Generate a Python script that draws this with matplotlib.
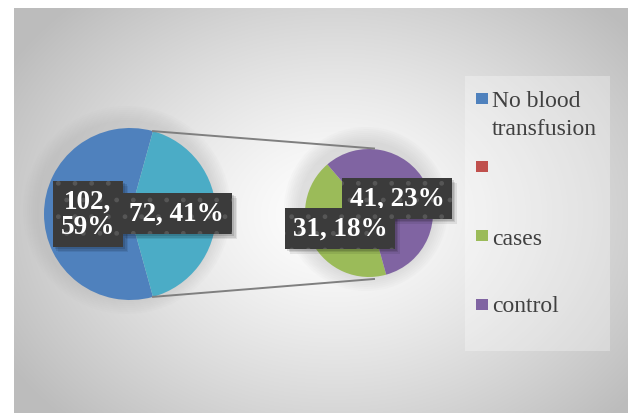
import numpy as np
import matplotlib
matplotlib.use("Agg")
import matplotlib.pyplot as plt
from matplotlib.patches import Rectangle

plt.rcParams['hatch.linewidth'] = 1.0

# ---- data ----
main_labels = ["No blood transfusion", "Blood transfusion"]
main_values = [102, 72]
main_pcts = [59, 41]
sub_labels = ["cases", "control"]
sub_values = [31, 41]
sub_pcts = [18, 23]
legend_labels = ["No blood\ntransfusion", "", "cases", "control"]

main_colors = ["#4F81BD", "#4BACC6"]
sub_colors = ["#9BBB59", "#8064A2"]
legend_colors = ["#4F81BD", "#C0504D", "#9BBB59", "#8064A2"]

W, H = 628, 414
fig = plt.figure(figsize=(W / 100, H / 100), dpi=100)
ax = fig.add_axes([0, 0, 1, 1])

def Y(y):
    return H - y

# background radial gradient
xx, yy = np.meshgrid(np.arange(W), np.arange(H))
r = np.sqrt(((xx - 335) / 380.0) ** 2 + ((yy - 215) / 290.0) ** 2)
g = 1.0 - 0.26 * np.clip(r, 0, 1) ** 1.3
img = np.dstack([g, g, g])
img[:9, :, :] = 1.0
img[:, :14, :] = 1.0
ax.imshow(img, extent=(0, W, 0, H), origin='upper', zorder=0, interpolation='bilinear')

# soft halos around pies
for cx, cy, rr in [(130, 215, 86), (369, 214, 64)]:
    for k in range(8):
        ax.add_patch(plt.Circle((cx - 3, Y(cy - 4)), rr + 18 - 2 * k, color='#b0b0b0',
                                alpha=0.05, lw=0, zorder=1))

# main pie
mc, mr = (130, Y(215)), 86
main_frac = main_values[1] / sum(main_values)
half = 180 * main_frac
ax.pie(main_values, colors=main_colors, startangle=half, counterclock=True,
       center=mc, radius=mr, wedgeprops=dict(lw=0), frame=True)

# sub pie
sc, sr = (369, Y(214)), 64
ax.pie(sub_values, colors=sub_colors, startangle=130.6, counterclock=True,
       center=sc, radius=sr, wedgeprops=dict(lw=0), frame=True)

ax.set_xlim(0, W)
ax.set_ylim(0, H)
ax.set_aspect('auto')
ax.axis('off')

# connector lines
a = np.deg2rad(half)
p_top = (mc[0] + mr * np.cos(a), mc[1] + mr * np.sin(a))
p_bot = (mc[0] + mr * np.cos(a), mc[1] - mr * np.sin(a))
ax.plot([p_top[0], sc[0] + 5], [p_top[1], sc[1] + sr + 0.5], color='#7f7f7f', lw=1.4, zorder=3)
ax.plot([p_bot[0], sc[0] + 5], [p_bot[1], sc[1] - sr - 2], color='#7f7f7f', lw=1.4, zorder=3)

# data labels
lab_font = dict(family='Liberation Serif', weight='bold', size=19.5, color='white')
labels = [
    (f"{main_values[0]},\n{main_pcts[0]}%", 88, 215, 0.30),
    (f"{main_values[1]}, {main_pcts[1]}%", 176.5, 214.5, 0.30),
    (f"{sub_values[1]}, {sub_pcts[1]}%", 397, 199.5, 0.28),
    (f"{sub_values[0]}, {sub_pcts[0]}%", 340, 229.5, 0.28),
]
label_texts = []
for txt, x, y, pad in labels:
    t = ax.text(x, Y(y), txt, ha='center', va='center', linespacing=1.0, fontdict=lab_font,
                bbox=dict(boxstyle=f'square,pad={pad}', fc='#3b3b3b', ec='#565656', lw=0,
                          hatch='.'), zorder=5)
    label_texts.append(t)

# box shadows (computed from the rendered label boxes)
fig.canvas.draw()
renderer = fig.canvas.get_renderer()
inv = ax.transData.inverted()
for t in label_texts:
    ext = t.get_bbox_patch().get_window_extent(renderer)
    (x0, y0), (x1, y1) = inv.transform([[ext.x0, ext.y0], [ext.x1, ext.y1]])
    for dx, al in [(5, 0.08), (3.5, 0.10), (2, 0.12)]:
        ax.add_patch(Rectangle((x0 + dx, y0 - dx), x1 - x0, y1 - y0, fc='black',
                               alpha=al, lw=0, zorder=4))

# legend
ax.add_patch(Rectangle((465, Y(352)), 145, 275, fc='white', alpha=0.3, lw=0, zorder=2))
leg_font = dict(family='Liberation Serif', size=17, color='#404040')
sq_bottom = [105, 173, 242, 311]
baselines = [107, 175, 245, 312]
for lab, col, sb, bl in zip(legend_labels, legend_colors, sq_bottom, baselines):
    ax.add_patch(Rectangle((476, Y(sb)), 11.5, 11.5, fc=col, lw=0, zorder=3))
    for i, line in enumerate(lab.split('\n')):
        if line:
            ax.text(492, Y(bl + 28 * i), line, ha='left', va='baseline',
                    fontdict=leg_font, zorder=3)

fig.savefig("out.png", dpi=100)
